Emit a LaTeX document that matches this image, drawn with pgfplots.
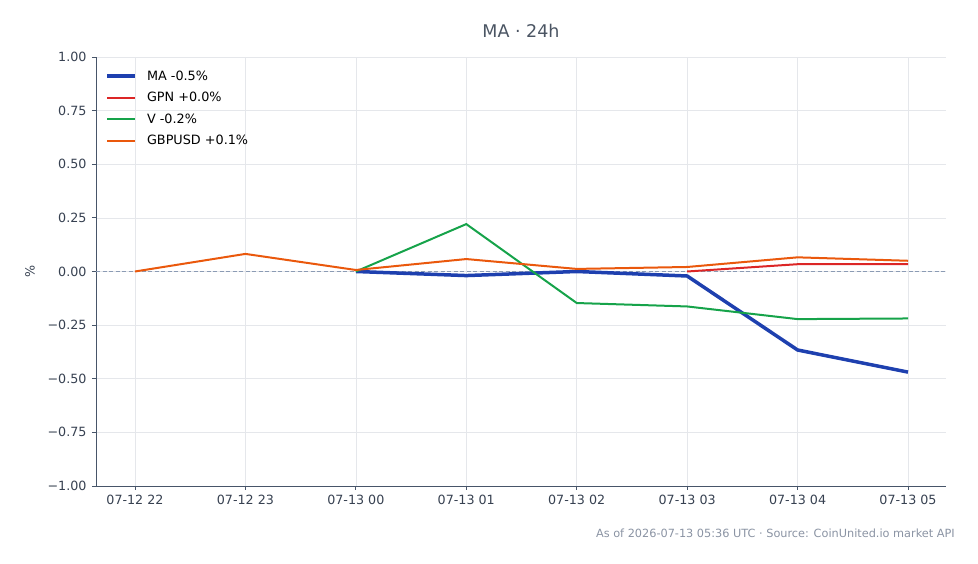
\documentclass[border=0pt]{standalone}
\usepackage{pgfplots}
\pgfplotsset{compat=1.18}
\usepackage{fontspec}
\setmainfont{DejaVu Sans}

\definecolor{maBlue}{HTML}{1E40AF}
\definecolor{gpnRed}{HTML}{DC2626}
\definecolor{vGreen}{HTML}{16A34A}
\definecolor{gbpOrange}{HTML}{EA580C}
\definecolor{titleGray}{HTML}{4B5563}
\definecolor{tickGray}{HTML}{374151}
\definecolor{spineGray}{HTML}{475569}
\definecolor{gridGray}{HTML}{E5E7EB}
\definecolor{zeroGray}{HTML}{8B9BB4}
\definecolor{noteGray}{HTML}{8A93A3}

\begin{document}
\begin{tikzpicture}[x=1pt,y=1pt]
  % fixed canvas
  \path[use as bounding box] (0,0) rectangle (978,564);

  \begin{axis}[
    at={(96pt,78pt)}, anchor=south west,
    scale only axis, width=850pt, height=429pt,
    xmin=-0.353, xmax=7.344, ymin=-1, ymax=1,
    xtick={0,1,2,3,4,5,6,7},
    xticklabels={07-12 22,07-12 23,07-13 00,07-13 01,07-13 02,07-13 03,07-13 04,07-13 05},
    ytick={-1,-0.75,-0.5,-0.25,0,0.25,0.5,0.75,1},
    yticklabels={−1.00,−0.75,−0.50,−0.25,0.00,0.25,0.50,0.75,1.00},
    axis x line*=bottom, axis y line*=left,
    axis line style={-, color=spineGray, line width=0.9pt},
    tick align=outside, major tick length=4pt,
    tick style={color=spineGray, line width=0.9pt},
    grid=major, grid style={color=gridGray, line width=0.6pt},
    tick label style={font=\fontsize{12.7}{15}\selectfont, color=tickGray},
    xticklabel style={yshift=-2pt},
    yticklabel style={xshift=-2pt},
    title={MA · 24h},
    title style={at={(0.5,1)}, anchor=south, yshift=10pt,
      font=\fontsize{17.5}{20}\selectfont, color=titleGray},
    ylabel={\%},
    every axis y label/.style={at={(axis description cs:-0.0776,0.5)},
      anchor=center, rotate=90, font=\fontsize{12.7}{15}\selectfont, color=tickGray},
    legend style={at={(axis description cs:0.011,0.971)}, anchor=north west,
      draw=none, fill=none, font=\fontsize{12.8}{15}\selectfont,
      row sep=8.5pt, inner sep=0pt,
      nodes={inner sep=1pt}},
    legend cell align=left,
    legend image code/.code={\draw[#1] (0pt,0pt) -- (28pt,0pt); \path (37pt,0pt);},
  ]
    % zero reference line
    \addplot[forget plot, color=zeroGray, line width=0.9pt,
      dash pattern=on 4pt off 2.5pt] coordinates {(-0.353,0) (7.344,0)};

    \addplot[color=maBlue, line width=3.5pt] coordinates {
      (2,0.000) (3,-0.019) (4,0.000) (5,-0.021) (6,-0.366) (7,-0.469)};
    \addlegendentry{MA -0.5\%}

    \addplot[color=gpnRed, line width=2pt] coordinates {
      (5,0.000) (6,0.034) (7,0.034)};
    \addlegendentry{GPN +0.0\%}

    \addplot[color=vGreen, line width=2pt] coordinates {
      (2,0.000) (3,0.221) (4,-0.147) (5,-0.163) (6,-0.222) (7,-0.219)};
    \addlegendentry{V -0.2\%}

    \addplot[color=gbpOrange, line width=2pt] coordinates {
      (0,0.000) (1,0.082) (2,0.007) (3,0.058) (4,0.012) (5,0.021) (6,0.066) (7,0.050)};
    \addlegendentry{GBPUSD +0.1\%}
  \end{axis}

  \node[anchor=east, inner sep=0pt, color=noteGray, font=\fontsize{11.3}{13}\selectfont]
    at (955,31) {As of 2026-07-13 05:36 UTC · Source: CoinUnited.io market API};
\end{tikzpicture}
\end{document}
